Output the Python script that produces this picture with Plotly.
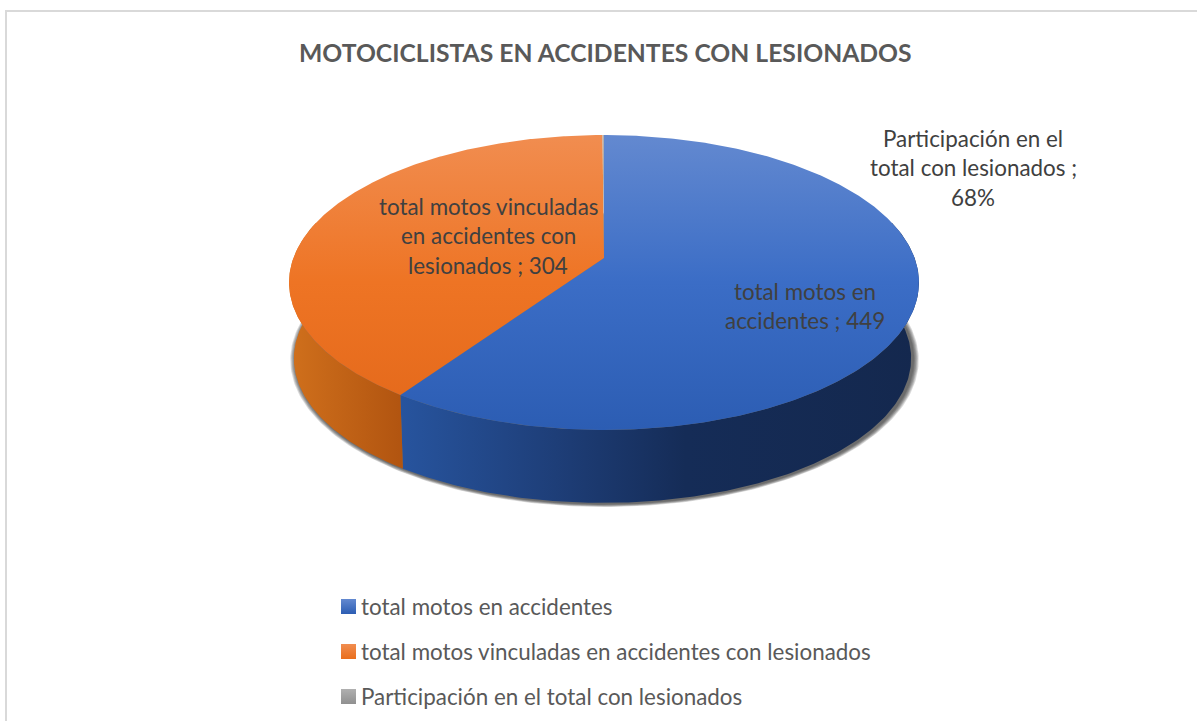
import numpy as np
import plotly.graph_objects as go

# ---- data ----
categories = ["total motos en accidentes",
              "total motos vinculadas en accidentes con lesionados",
              "Participación en el total con lesionados"]
values = [449, 304, 0.68]
value_labels = ["449", "304", "68%"]
title = "MOTOCICLISTAS EN ACCIDENTES CON LESIONADOS"
label_lines = [["total motos en", "accidentes ; %s" % value_labels[0]],
               ["total motos vinculadas", "en accidentes con", "lesionados ; %s" % value_labels[1]],
               ["Participación en el", "total con lesionados ;", value_labels[2]]]

# ---- styling / geometry ----
W, H = 1197, 721
CX, CX_BOT, CY_TOP, CY_BOT = 604, 602.5, 258, 334.4
B, A, K, WALL = 310.6, 143.4, 0.166, 0.98
TOP_SCALES = [
    [[0, "#6389d0"], [0.5, "#3b6dc6"], [1, "#2c5db3"]],
    [[0, "#f18d50"], [0.5, "#ee7424"], [1, "#e3681a"]],
    [[0, "#b0b0b0"], [1, "#909090"]],
]
WALL_SCALES = [
    [[0, "#27549e"], [0.3, "#1e3e78"], [0.55, "#152c57"], [1, "#14284e"]],
    [[0, "#d0701c"], [1, "#b15410"]],
    [[0, "#777777"], [1, "#777777"]],
]
SWATCH = [("#6389d0", "#2c5db3"), ("#f18d50", "#e96e1c"), ("#b0b0b0", "#909090")]
LABEL_POS = [(805, 291), (488, 206), (973, 138)]
LEGEND_X, LEGEND_Y, LEGEND_STEP = 348.5, 606.5, 45
LABEL_STEP = 29.7


def rim(theta, cx, cy, scale=1.0, grow=0.0):
    u, v = np.sin(theta), -np.cos(theta)
    d = 1 - K * v
    return cx + (scale * B * u / d) * (1 + grow), cy + (scale * A * v / d) * (1 + grow)


fig = go.Figure()

# soft drop shadow under the body
full = np.linspace(0, 2 * np.pi, 361)
for i in range(6, 0, -1):
    sx, sy = rim(full, CX_BOT, CY_BOT, WALL, i * 0.003)
    fig.add_trace(go.Scatter(x=sx + 2, y=sy + 1, mode="lines", line=dict(width=0), fill="toself",
                             fillcolor="rgba(30,30,30,0.16)", hoverinfo="skip", showlegend=False))

edges = np.cumsum([0] + values) / np.sum(values) * 2 * np.pi

# side walls, only their visible front part
for i in range(len(values)):
    lo, hi = max(edges[i], np.radians(75)), min(edges[i + 1], np.radians(285))
    if hi <= lo:
        continue
    t = np.linspace(lo, hi, 200)
    xt, yt = rim(t, CX, CY_TOP)
    xb, yb = rim(t, CX_BOT, CY_BOT, WALL)
    xs, ys = np.r_[xt, xb[::-1]], np.r_[yt, yb[::-1]]
    fig.add_trace(go.Scatter(x=xs, y=ys, mode="lines", line=dict(width=0), fill="toself",
                             fillgradient=dict(type="horizontal", colorscale=WALL_SCALES[i],
                                               start=float(xs.min()), stop=float(xs.max())),
                             hoverinfo="skip", showlegend=False))

# top face
top_y = rim(np.array([0.0]), CX, CY_TOP)[1][0]
bot_y = rim(np.array([np.pi]), CX, CY_TOP)[1][0]
for i in range(len(values)):
    t = np.linspace(edges[i], edges[i + 1], 400)
    xt, yt = rim(t, CX, CY_TOP)
    xs, ys = np.r_[CX, xt, CX], np.r_[CY_TOP, yt, CY_TOP]
    fig.add_trace(go.Scatter(x=xs, y=ys, mode="lines", line=dict(width=0), fill="toself",
                             fillgradient=dict(type="vertical", colorscale=TOP_SCALES[i],
                                               start=float(top_y), stop=float(bot_y)),
                             name=categories[i], hoverinfo="skip", showlegend=False))

# legend rows (swatch + text)
for i, name in enumerate(categories):
    fig.add_trace(go.Scatter(x=[LEGEND_X], y=[LEGEND_Y + i * LEGEND_STEP], mode="markers",
                             marker=dict(symbol="square", size=15, color=SWATCH[i][0],
                                         gradient=dict(type="vertical", color=SWATCH[i][1]),
                                         line=dict(width=0)),
                             hoverinfo="skip", showlegend=False))

annotations = [dict(x=605, y=52, xref="x", yref="y", text="<b>%s</b>" % title, showarrow=False,
                    font=dict(family="Lato", size=24.7, color="#595959"))]
for i, name in enumerate(categories):
    annotations.append(dict(x=LEGEND_X + 10, y=LEGEND_Y + i * LEGEND_STEP, xref="x", yref="y", text=name,
                            xanchor="left", showarrow=False,
                            font=dict(family="Lato", size=22.4, color="#595959")))
for (px, py), lines in zip(LABEL_POS, label_lines):
    for j, line in enumerate(lines):
        annotations.append(dict(x=px, y=py + j * LABEL_STEP, xref="x", yref="y", text=line, showarrow=False,
                                font=dict(family="Lato", size=22.4, color="#404040")))

fig.update_layout(
    width=W, height=H, margin=dict(l=0, r=0, t=0, b=0),
    paper_bgcolor="white", plot_bgcolor="white", showlegend=False,
    xaxis=dict(range=[0, W], visible=False, fixedrange=True),
    yaxis=dict(range=[H, 0], visible=False, fixedrange=True),
    annotations=annotations,
    shapes=[dict(type="line", x0=6, x1=6, y0=11, y1=H, xref="x", yref="y", line=dict(color="#d9d9d9", width=2)),
            dict(type="line", x0=5, x1=W, y0=11, y1=11, xref="x", yref="y", line=dict(color="#d9d9d9", width=2))],
)
fig.write_html("out.html", config={"displayModeBar": False},
               post_script="document.body.style.margin='0';document.documentElement.style.overflow='hidden';")
